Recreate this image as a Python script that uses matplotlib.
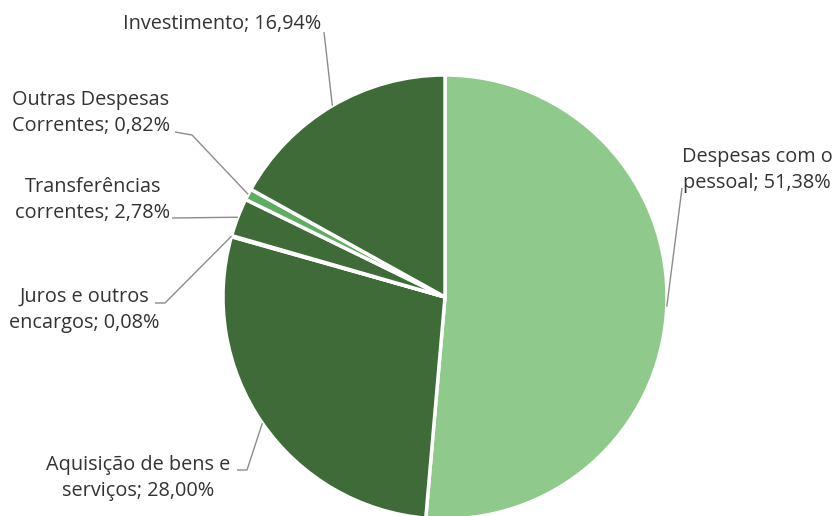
import numpy as np
import matplotlib.pyplot as plt

# distribuição da despesa por grupo
labels = ['Despesas com o\npessoal; 51,38%',
          'Aquisição de bens e\nserviços; 28,00%',
          'Juros e outros\nencargos; 0,08%',
          'Transferências\ncorrentes; 2,78%',
          'Outras Despesas\nCorrentes; 0,82%',
          'Investimento; 16,94%']
shares = [51.38, 28.00, 0.08, 2.78, 0.82, 16.94]
colors = ['#8fc98c', '#3e6b37', '#3e6b37', '#3e6b37', '#5fad60', '#3e6b37']

# posições dos rótulos (coordenadas em pixels, origem em baixo)
label_pos = [(757, 346), (138, 38), (84, 206), (93, 316), (91, 403), (222, 492)]
# pontos de partida das linhas de chamada (junto ao texto)
leader_start = [[(682, 328)],
                [(237, 46), (247, 46)],
                [(155, 213), (165, 213)],
                [(172, 298)],
                [(175, 384), (192, 381)],
                [(324, 484)]]

fig = plt.figure(figsize=(8.36, 5.16), dpi=100)
ax = fig.add_axes([0, 0, 1, 1])

cx, cy, r = 445, 219, 222
wedges, _ = ax.pie(shares, colors=colors, startangle=90, counterclock=False,
                   center=(cx, cy), radius=r, frame=True,
                   wedgeprops=dict(edgecolor='white', linewidth=2.5))
ax.set_xlim(0, 836)
ax.set_ylim(0, 516)
ax.set_aspect('equal')
ax.axis('off')

for w, lab, pos, pts in zip(wedges, labels, label_pos, leader_start):
    ang = np.deg2rad((w.theta1 + w.theta2) / 2)
    px, py = cx + r * np.cos(ang), cy + r * np.sin(ang)
    xs = [p[0] for p in pts] + [px]
    ys = [p[1] for p in pts] + [py]
    ax.plot(xs, ys, color='#8c8c8c', lw=1, solid_capstyle='butt')
    ax.text(pos[0], pos[1], lab, ha='center', va='center', fontsize=14.3,
            family='Open Sans', color='#333333', linespacing=1.38)

fig.savefig('out.png', dpi=100)
